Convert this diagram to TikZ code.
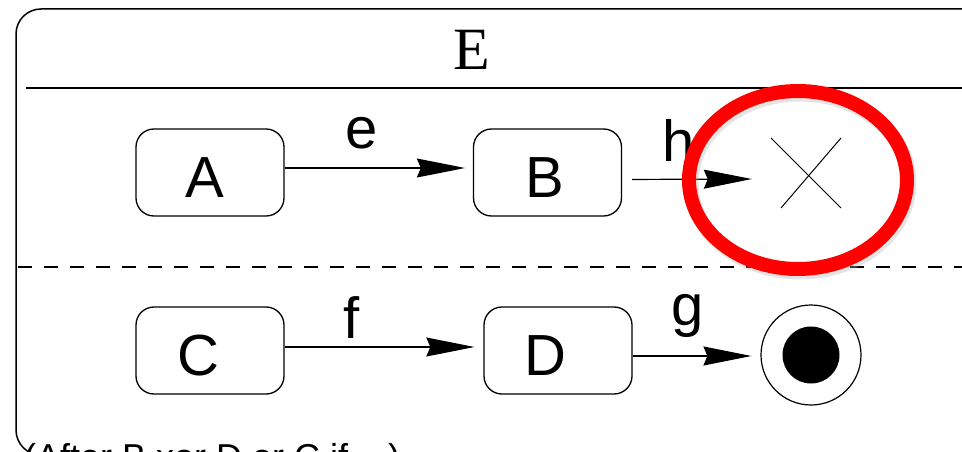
\documentclass[tikz,border=0pt]{standalone}
\usepackage{fontspec}
\setmainfont{Liberation Sans}
\newfontfamily\titlefont{Liberation Serif}
\usetikzlibrary{arrows.meta}

\begin{document}
\begin{tikzpicture}[x=1pt,y=-1pt,
  statebox/.style={draw, line width=1.3pt, rounded corners=18pt,
    minimum width=148pt, minimum height=87pt, inner sep=0pt},
  statename/.style={inner sep=0pt, font=\fontsize{58}{58}\selectfont},
  trans/.style={line width=1.2pt, -{Stealth[length=48pt,width=19pt,inset=4pt]}},
  lbl/.style={inner sep=0pt, font=\fontsize{58}{58}\selectfont},
  frame/.style={line width=1.5pt}]

\useasboundingbox (0,0) rectangle (962,452);
\clip (0,0) rectangle (962,452);

% composite state E with its two regions
\draw[frame, rounded corners=25pt] (16,9) rectangle (1000,455);
\draw[frame] (26,88) -- (1000,88);
\draw[line width=1.2pt, dash pattern=on 14pt off 12pt] (18,267) -- (962,267);
\node[inner sep=0pt, font=\titlefont\fontsize{60}{60}\selectfont] (title) at (472,50) {E};

% states (names set slightly left of and below the box centre)
\node[statebox, label={[statename, xshift=-5pt, yshift=-5pt]center:A}] (A) at (210,172.5) {};
\node[statebox, label={[statename, xshift=-3pt, yshift=-5pt]center:B}] (B) at (547.5,172.5) {};
\node[statebox, label={[statename, xshift=-12pt, yshift=-5pt]center:C}] (C) at (210,350.5) {};
\node[statebox, label={[statename, xshift=-13pt, yshift=-5pt]center:D}] (D) at (558,350.5) {};

% terminate pseudostate
\node[minimum size=112pt, inner sep=0pt] (T) at (808,176) {};
\draw[line width=1pt] (T.center) ++(-37,-38) -- ++(70,70);
\draw[line width=1pt] (T.center) ++(33,-38) -- ++(-60,70);

% final state
\node[circle, draw, line width=1.2pt, minimum size=100pt, inner sep=0pt] (F) at (811,355) {};
\node[circle, fill=black, minimum size=57pt, inner sep=0pt] (Fdot) at (F.center) {};

% transitions
\draw[trans, shorten >=8pt] ([yshift=4.5pt]A.east) -- ([yshift=4.5pt]B.west);
\draw[trans, shorten <=10pt] ([yshift=-7pt]B.east) -- ([yshift=-3pt]T.west);
\draw[trans, shorten >=9pt] ([yshift=3.5pt]C.east) -- ([yshift=3.5pt]D.west);
\draw[trans, shorten >=9pt] ([yshift=-5.5pt]D.east) -- ([yshift=-1pt]F.west);

\node[lbl] (le) at (362,133) {e};
\node[lbl] (lh) at (679,140) {h};
\node[lbl] (lf) at (352,318) {f};
\node[lbl] (lg) at (688,316) {g};

% highlight ring around the terminate pseudostate
\draw[black!30, opacity=0.35, line width=15pt] (800,183) ellipse [x radius=109, y radius=89];
\draw[red, line width=14pt] (798,180) ellipse [x radius=109, y radius=89];

% note below the frame
\node[anchor=base west, inner sep=0pt, font=\fontsize{36}{36}\selectfont] (note) at (24,469) {(After B xor D or C if ...)};
\end{tikzpicture}
\end{document}
